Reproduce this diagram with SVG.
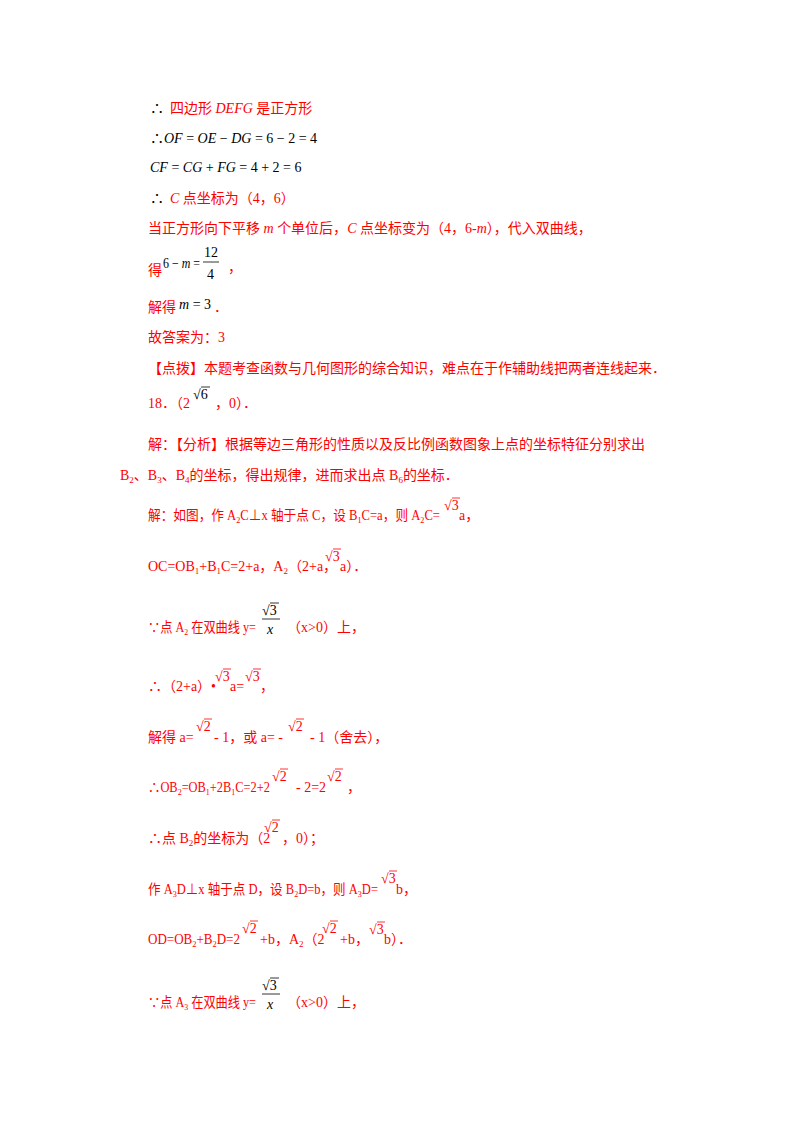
<svg xmlns="http://www.w3.org/2000/svg" width="800" height="1132" viewBox="0 0 800 1132">
<style>
text{font-family:"Liberation Serif","Noto Sans CJK SC",serif;font-size:14px;fill:#ff0000}
.k{fill:#000}
.i{font-style:italic}
.s{font-size:9px}
.rl{stroke:#ff0000;stroke-width:0.8}
.bl{stroke:#000;stroke-width:0.8}
</style>
<rect width="800" height="1132" fill="#fff"/>
<g id="text">
<text x="150" y="113" class="k">∴</text>
<text x="170" y="113">四边形 <tspan class="i">DEFG</tspan> 是正方形</text>
<text x="150" y="143" class="k">∴<tspan class="i">OF</tspan> = <tspan class="i">OE</tspan> − <tspan class="i">DG</tspan> = 6 − 2 = 4</text>
<text x="150" y="172" class="k"><tspan class="i">CF</tspan> = <tspan class="i">CG</tspan> + <tspan class="i">FG</tspan> = 4 + 2 = 6</text>
<text x="150" y="203" class="k">∴</text>
<text x="170" y="203"><tspan class="i">C</tspan> 点坐标为（4，6）</text>
<text x="148" y="233">当正方形向下平移 <tspan class="i">m</tspan> 个单位后，<tspan class="i">C</tspan> 点坐标变为（4，6-<tspan class="i">m</tspan>），代入双曲线，</text>
<text x="148" y="275">得</text>
<text x="163" y="268" class="k" textLength="37" lengthAdjust="spacingAndGlyphs">6 − <tspan class="i">m</tspan> =</text>
<text x="204" y="257" class="k">12</text>
<line x1="203" y1="262" x2="219" y2="262" class="bl"/>
<text x="207" y="279" class="k">4</text>
<text x="228" y="272">，</text>
<text x="148" y="312">解得</text>
<text x="179" y="309" class="k"><tspan class="i">m</tspan> = 3</text>
<text x="214" y="312">．</text>
<text x="148" y="342">故答案为：3</text>
<text x="148" y="373">【点拨】本题考查函数与几何图形的综合知识，难点在于作辅助线把两者连线起来．</text>
<text x="148" y="408">18．（2</text>
<text x="193" y="399" class="k">√6</text>
<text x="215" y="408">，0）．</text>

<text x="148" y="449">解：【分析】根据等边三角形的性质以及反比例函数图象上点的坐标特征分别求出</text>
<text x="120" y="480">B<tspan class="s" dy="3">2</tspan><tspan dy="-3">、B</tspan><tspan class="s" dy="3">3</tspan><tspan dy="-3">、B</tspan><tspan class="s" dy="3">4</tspan><tspan dy="-3">的坐标，得出规律，进而求出点 B</tspan><tspan class="s" dy="3">6</tspan><tspan dy="-3">的坐标．</tspan></text>

<text x="148" y="520" textLength="292" lengthAdjust="spacingAndGlyphs">解：如图，作 A<tspan class="s" dy="3">2</tspan><tspan dy="-3">C⊥x 轴于点 C，设 B</tspan><tspan class="s" dy="3">1</tspan><tspan dy="-3">C=a，则 A</tspan><tspan class="s" dy="3">2</tspan><tspan dy="-3">C=</tspan></text>
<text x="444" y="510">√3</text><text x="459" y="520">a，</text>

<text x="148" y="571">OC=OB<tspan class="s" dy="3">1</tspan><tspan dy="-3">+B</tspan><tspan class="s" dy="3">1</tspan><tspan dy="-3">C=2+a，A</tspan><tspan class="s" dy="3">2</tspan><tspan dy="-3">（2+a，</tspan></text>
<text x="325" y="561">√3</text><text x="340" y="571">a）．</text>

<text x="148" y="632" textLength="108" lengthAdjust="spacingAndGlyphs">∵点 A<tspan class="s" dy="3">2</tspan><tspan dy="-3"> 在双曲线 y=</tspan></text>
<text x="262" y="615" class="k">√3</text>
<line x1="262" y1="619" x2="280" y2="619" class="bl"/>
<text x="267" y="634" class="k i">x</text>
<text x="287" y="632">（x&gt;0）上，</text>

<text x="148" y="691">∴（2+a）•</text>
<text x="215" y="681">√3</text><text x="230" y="691">a=</text>
<text x="245" y="681">√3</text><text x="260" y="691">，</text>

<text x="148" y="742">解得 a=</text>
<text x="196" y="731">√2</text>
<text x="214" y="742">- 1，或 a= -</text>
<text x="288" y="731">√2</text>
<text x="310" y="742">- 1（舍去），</text>

<text x="148" y="792" textLength="122" lengthAdjust="spacingAndGlyphs">∴OB<tspan class="s" dy="3">2</tspan><tspan dy="-3">=OB</tspan><tspan class="s" dy="3">1</tspan><tspan dy="-3">+2B</tspan><tspan class="s" dy="3">1</tspan><tspan dy="-3">C=2+2</tspan></text>
<text x="272" y="781">√2</text>
<text x="296" y="792">- 2=2</text>
<text x="327" y="781">√2</text>
<text x="347" y="792">，</text>

<text x="148" y="843">∴点 B<tspan class="s" dy="3">2</tspan><tspan dy="-3">的坐标为（2</tspan></text>
<text x="264" y="832">√2</text>
<text x="282" y="843">，0）；</text>

<text x="148" y="894" textLength="230" lengthAdjust="spacingAndGlyphs">作 A<tspan class="s" dy="3">3</tspan><tspan dy="-3">D⊥x 轴于点 D，设 B</tspan><tspan class="s" dy="3">2</tspan><tspan dy="-3">D=b，则 A</tspan><tspan class="s" dy="3">3</tspan><tspan dy="-3">D=</tspan></text>
<text x="381" y="883">√3</text><text x="396" y="894">b，</text>

<text x="148" y="944" textLength="92" lengthAdjust="spacingAndGlyphs">OD=OB<tspan class="s" dy="3">2</tspan><tspan dy="-3">+B</tspan><tspan class="s" dy="3">2</tspan><tspan dy="-3">D=2</tspan></text>
<text x="242" y="933">√2</text>
<text x="260" y="944">+b，A<tspan class="s" dy="3">2</tspan><tspan dy="-3">（2</tspan></text>
<text x="322" y="933">√2</text>
<text x="340" y="944">+b，</text>
<text x="369" y="934">√3</text>
<text x="384" y="944">b）．</text>

<text x="148" y="1007" textLength="108" lengthAdjust="spacingAndGlyphs">∵点 A<tspan class="s" dy="3">3</tspan><tspan dy="-3"> 在双曲线 y=</tspan></text>
<text x="262" y="990" class="k">√3</text>
<line x1="262" y1="994" x2="280" y2="994" class="bl"/>
<text x="267" y="1009" class="k i">x</text>
<text x="287" y="1007">（x&gt;0）上，</text>
</g>
<g id="radical-bars">
<line x1="201" y1="387" x2="210" y2="387" class="bl"/>
<line x1="452" y1="498" x2="460" y2="498" class="rl"/>
<line x1="333" y1="549" x2="341" y2="549" class="rl"/>
<line x1="270" y1="603" x2="279" y2="603" class="bl"/>
<line x1="223" y1="669" x2="231" y2="669" class="rl"/>
<line x1="253" y1="669" x2="261" y2="669" class="rl"/>
<line x1="204" y1="719" x2="212" y2="719" class="rl"/>
<line x1="296" y1="719" x2="304" y2="719" class="rl"/>
<line x1="280" y1="769" x2="288" y2="769" class="rl"/>
<line x1="335" y1="769" x2="343" y2="769" class="rl"/>
<line x1="272" y1="820" x2="280" y2="820" class="rl"/>
<line x1="389" y1="871" x2="397" y2="871" class="rl"/>
<line x1="250" y1="921" x2="258" y2="921" class="rl"/>
<line x1="330" y1="921" x2="338" y2="921" class="rl"/>
<line x1="377" y1="922" x2="385" y2="922" class="rl"/>
<line x1="270" y1="978" x2="279" y2="978" class="bl"/>
</g>
</svg>
